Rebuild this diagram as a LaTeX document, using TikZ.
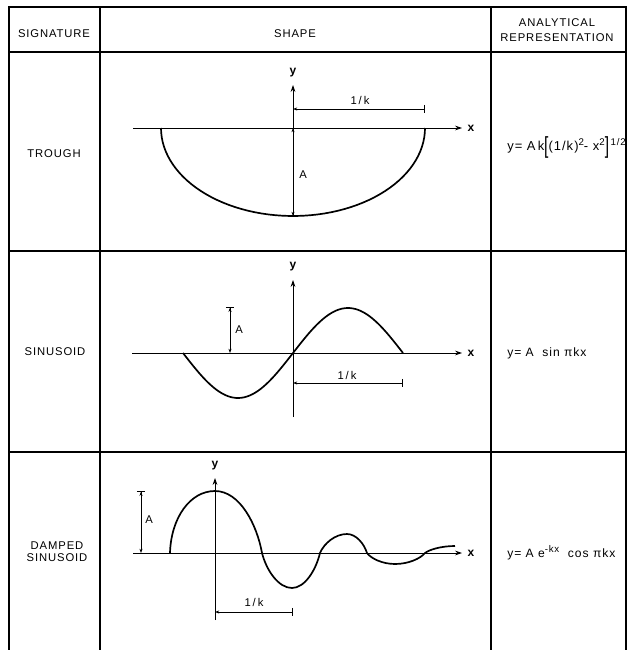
\documentclass[tikz,border=0pt]{standalone}
\usepackage{fontspec}
\usepackage{graphicx}
\setmainfont{Liberation Sans}[LetterSpace=8]
\usetikzlibrary{arrows.meta}
\newcommand{\expo}[1]{\raisebox{0.85ex}{\fontsize{6.9}{7.5}\selectfont #1}}
\newcommand{\tallbr}[1]{\raisebox{-0.3ex}{\scalebox{1.2}[1.8]{#1}}}

\begin{document}
\begin{tikzpicture}[
  x=0.025cm,
  y=-0.025cm,
  >=Stealth,
  table line/.style={
    line width=0.9pt
  },
  head text/.style={
    align=center,
    inner sep=0pt,
    font=\fontsize{8}{10.3}\selectfont
  },
  axis/.style={
    line width=0.6pt,
    arrows={-Stealth[length=5pt,width=3.4pt]}
  },
  curve/.style={
    line width=1.2pt
  },
  dim open/.style={
    line width=0.5pt,
    arrows={Stealth[length=3pt,width=2.2pt]-Bar[width=6pt]}
  },
  dim both/.style={
    line width=0.5pt,
    arrows={Stealth[length=3pt,width=2.2pt]-Stealth[length=3pt,width=2.2pt]}
  },
  dim bar/.style={
    line width=0.5pt,
    arrows={Stealth[length=3pt,width=2.2pt]-Stealth[length=3pt,width=2.2pt]Bar[width=6pt]}
  },
  label/.style={
    inner sep=1pt,
    font=\fontsize{8}{9.4}\selectfont
  },
  axis label/.style={
    inner sep=1pt,
    font=\fontsize{8.5}{10}\selectfont\bfseries
  },
  formula/.style={
    anchor=west,
    inner sep=0pt,
    font=\fontsize{8.6}{10}\selectfont
  }
]
\useasboundingbox (0,0) rectangle (635,650);

% table
\draw[table line] (9,650) -- (9,7) -- (626,7) -- (626,650);
\draw[table line] (100,7) -- (100,650);
\draw[table line] (491,7) -- (491,650);
\foreach \ry in {52,251,452}
  \draw[table line] (9,\ry) -- (626,\ry);

% header
\node[head text] (signature) at (54,34) {SIGNATURE};
\node[head text] (shape) at (295,34) {SHAPE};
\node[head text] (analytical) at (557,30) {ANALYTICAL\\REPRESENTATION};

% trough
\node[head text] (trough) at (54,154) {TROUGH};
\coordinate (tro) at (293,128);
\coordinate (trxl) at (133,128);
\coordinate (trxr) at (462,128);
\coordinate (tryb) at (293,216);
\coordinate (tryt) at (293,85);
\coordinate (trkl) at (293,109);
\coordinate (trkr) at (425,109);
\draw[axis] (trxl) -- (trxr);
\draw[axis] (tryb) -- (tryt);
\node[axis label] (trx) at (471,128) {x};
\node[axis label] (try) at (293,73) {y};
\draw[curve] plot[domain=0:180, samples=60] ({293+132*cos(\x)}, {128+88*sin(\x)});
\draw[dim both] (tro) -- (tryb);
\node[label] (tra) at (303,175) {A};
\draw[dim open] (trkl) -- (trkr);
\node[label] (trk) at (360,100) {1\,/\,k};
\node[formula, font=\fontsize{9.2}{10.5}\selectfont] (trf) at (507,147)
  {y= A\,k\tallbr{[}(1/k)\expo{2}- x\expo{2}\tallbr{]}\expo{\,1/2}};

% sinusoid
\node[head text] (sinusoid) at (55,352) {SINUSOID};
\coordinate (sio) at (293,353);
\coordinate (sixl) at (132,353);
\coordinate (sixr) at (462,353);
\coordinate (siyb) at (293,417);
\coordinate (siyt) at (293,280);
\coordinate (siab) at (230,353);
\coordinate (siat) at (230,307);
\coordinate (sikl) at (293,383);
\coordinate (sikr) at (403,383);
\draw[axis] (sixl) -- (sixr);
\draw[axis] (siyb) -- (siyt);
\node[axis label] (six) at (471,353) {x};
\node[axis label] (siy) at (293,267) {y};
\draw[curve] plot[domain=183:403, samples=80] (\x, {353-45*sin((\x-293)/110*180)});
\draw[dim bar] (siab) -- (siat);
\node[label] (sia) at (239,330) {A};
\draw[dim open] (sikl) -- (sikr);
\node[label] (sik) at (347,375) {1\,/\,k};
\node[formula] (sif) at (507,353) {y= A\ \ sin πkx};

% damped sinusoid
\node[head text, font=\fontsize{8}{8.6}\selectfont] (damped) at (57,552) {DAMPED\\SINUSOID};
\coordinate (dao) at (215,553);
\coordinate (daxl) at (133,553);
\coordinate (daxr) at (462,553);
\coordinate (dayb) at (215,620);
\coordinate (dayt) at (215,478);
\coordinate (daab) at (141,553);
\coordinate (daat) at (141,491);
\coordinate (dakl) at (215,612);
\coordinate (dakr) at (293,612);
\draw[axis] (daxl) -- (daxr);
\draw[axis] (dayb) -- (dayt);
\node[axis label] (dax) at (471,553) {x};
\node[axis label] (day) at (215,466) {y};
\draw[curve] (170,553) .. controls (171,518) and (190,491) .. (215,491)
  .. controls (240,491) and (257,525) .. (262,553)
  .. controls (266.5,570.5) and (278.5,588) .. (292,588)
  .. controls (304.6,588) and (315.8,570.5) .. (320,553)
  .. controls (324,543.5) and (335,534) .. (347,534)
  .. controls (356,534) and (364,543.5) .. (367,553)
  .. controls (371,558.5) and (382.4,564) .. (395,564)
  .. controls (408.5,564) and (420.5,558.5) .. (425,553)
  .. controls (429.5,549.5) and (441.5,546) .. (455,546);
\draw[dim bar] (daab) -- (daat);
\node[label] (daa) at (149,520) {A};
\draw[dim open] (dakl) -- (dakr);
\node[label] (dak) at (254,602) {1\,/\,k};
\node[formula] (daf) at (507,553)
  {y= A e\expo{-kx}\ \ cos πkx};

\end{tikzpicture}
\end{document}
